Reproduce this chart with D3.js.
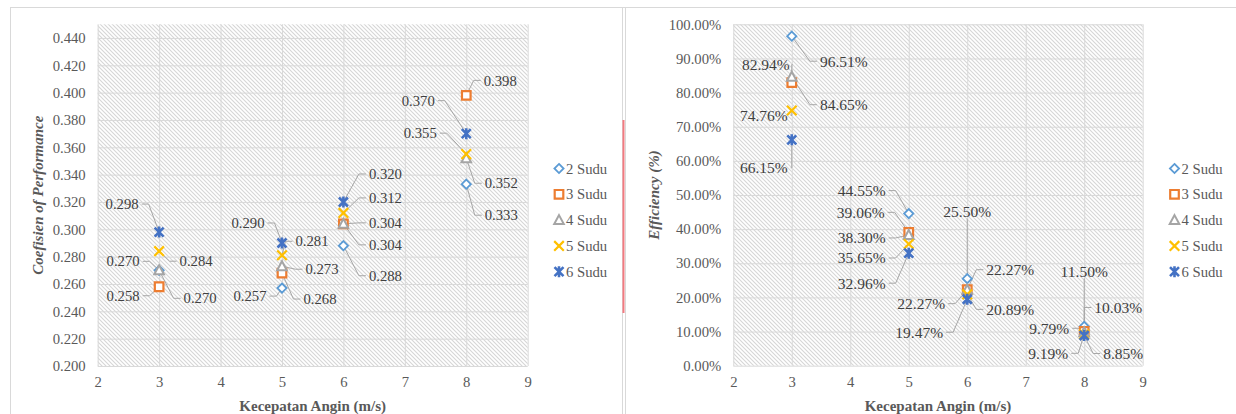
<!DOCTYPE html>
<html>
<head>
<meta charset="utf-8">
<script src="https://cdn.jsdelivr.net/npm/d3@7"></script>
</head>
<body style="margin:0">
<svg id="chart"></svg>
<script>
// data
let xValues = [3, 5, 6, 8]
let seriesNames = ['2 Sudu', '3 Sudu', '4 Sudu', '5 Sudu', '6 Sudu']

let cop2 = [0.270, 0.257, 0.288, 0.333]
let cop3 = [0.258, 0.268, 0.304, 0.398]
let cop4 = [0.270, 0.273, 0.304, 0.352]
let cop5 = [0.284, 0.281, 0.312, 0.355]
let cop6 = [0.298, 0.290, 0.320, 0.370]

let eff2 = [0.9651, 0.4455, 0.2550, 0.1150]
let eff3 = [0.8294, 0.3906, 0.2227, 0.1003]
let eff4 = [0.8465, 0.3830, 0.2227, 0.0979]
let eff5 = [0.7476, 0.3565, 0.2089, 0.0919]
let eff6 = [0.6615, 0.3296, 0.1947, 0.0885]

let xTicks = [2, 3, 4, 5, 6, 7, 8, 9]
let copTicks = [0.200, 0.220, 0.240, 0.260, 0.280, 0.300, 0.320, 0.340, 0.360, 0.380, 0.400, 0.420, 0.440]
let effTicks = [0, 0.1, 0.2, 0.3, 0.4, 0.5, 0.6, 0.7, 0.8, 0.9, 1.0]

// where Excel put each data label, offset from its point in px
let copLabelOffsets = [
    [[41, 28], [-32, 8], [42, 30], [35, 31]],
    [[-36, 9], [38, 26], [42, -1], [34, -15]],
    [[-36, -9], [40, 3], [42, 21], [35, 25]],
    [[37, 10], [30, -14], [42, -15], [-46, -21]],
    [[-37, -28], [-34, -20], [42, -28], [-48, -33]]
]
let effLabelOffsets = [
    [[52, 25], [-47, -23], [0, -67], [0, -55]],
    [[-26, -18], [-48, -20], [43, -20], [34, -24]],
    [[52, 28], [-47, 3], [-46, 14], [-35, -4]],
    [[-28, 5], [-47, 14], [43, 15], [-36, 19]],
    [[-28, 28], [-47, 30], [-48, 33], [39, 18]]
]

let colors = ['#5B9BD5', '#ED7D31', '#A5A5A5', '#FFC000', '#4472C4']
let shapes = ['diamond', 'square', 'triangle', 'x', 'star']

let fontName = '"Liberation Serif", "Times New Roman", serif'

let width = 1236
let height = 414

let svg = d3.select('#chart')
    .attr('width', width)
    .attr('height', height)

let defs = svg.append('defs')
let hatch = defs.append('pattern')
    .attr('id', 'hatch')
    .attr('patternUnits', 'userSpaceOnUse')
    .attr('width', 4)
    .attr('height', 4)
hatch.append('rect').attr('width', 4).attr('height', 4).attr('fill', '#fff')
hatch.append('path')
    .attr('d', 'M-1,-1L5,5M-1,3L1,5M3,-1L5,1')
    .attr('stroke', '#d6d6d6')
    .attr('stroke-width', 1.1)

// chart frames
svg.append('line').attr('x1', 10).attr('x2', width).attr('y1', 7.5).attr('y2', 7.5)
    .attr('stroke', '#d9d9d9')
svg.append('line').attr('x1', 10.5).attr('x2', 10.5).attr('y1', 7).attr('y2', height)
    .attr('stroke', '#d9d9d9')
svg.append('line').attr('x1', 622.5).attr('x2', 622.5).attr('y1', 7).attr('y2', height)
    .attr('stroke', '#d9d9d9')
svg.append('line').attr('x1', 625.5).attr('x2', 625.5).attr('y1', 7).attr('y2', height)
    .attr('stroke', '#d9d9d9')
svg.append('line').attr('x1', 623.5).attr('x2', 623.5).attr('y1', 120).attr('y2', 313)
    .attr('stroke', '#f27a80').attr('stroke-width', 2)

const markerPath = (shape) => {
    if (shape === 'diamond') return 'M0,-4.6L4.6,0L0,4.6L-4.6,0Z'
    if (shape === 'square') return 'M-4.3,-4.3H4.3V4.3H-4.3Z'
    if (shape === 'triangle') return 'M0,-5L4.8,4H-4.8Z'
    if (shape === 'x') return 'M-4.8,-4.8L4.8,4.8M4.8,-4.8L-4.8,4.8'
    return 'M-4.5,-4.5L4.5,4.5M4.5,-4.5L-4.5,4.5M0,-5.5V5.5'
}
const markerStroke = (shape) => {
    if (shape === 'diamond') return 1.8
    if (shape === 'square') return 2.2
    if (shape === 'triangle') return 2
    if (shape === 'x') return 2.2
    return 2.6
}

const setFont = (sel, size) => sel
    .style('font-family', fontName)
    .style('font-size', size + 'px')

const drawChart = (cfg) => {
    let xScale = d3.scaleLinear().domain([2, 9]).range([cfg.left, cfg.right])
    let yScale = d3.scaleLinear().domain(cfg.yDomain).range([cfg.bottom, cfg.top])

    let g = svg.append('g')

    g.append('rect')
        .attr('x', cfg.left).attr('y', cfg.top)
        .attr('width', cfg.right - cfg.left).attr('height', cfg.bottom - cfg.top)
        .attr('fill', 'url(#hatch)')

    // grid
    g.append('g')
        .attr('transform', `translate(${cfg.left},0)`)
        .call(d3.axisLeft(yScale).tickValues(cfg.yTicks).tickSize(-(cfg.right - cfg.left)).tickFormat(''))
        .call(a => a.select('.domain').remove())
        .call(a => a.selectAll('line').attr('stroke', '#d9d9d9'))
    g.append('g')
        .attr('transform', `translate(0,${cfg.bottom})`)
        .call(d3.axisBottom(xScale).tickValues(xTicks).tickSize(-(cfg.bottom - cfg.top)).tickFormat(''))
        .call(a => a.select('.domain').remove())
        .call(a => a.selectAll('line').attr('stroke', '#d9d9d9'))

    // tick labels
    g.append('g')
        .attr('transform', `translate(${cfg.left},0)`)
        .call(d3.axisLeft(yScale).tickValues(cfg.yTicks).tickSize(0).tickPadding(12).tickFormat(cfg.yFormat))
        .call(a => a.select('.domain').remove())
        .call(a => setFont(a.selectAll('text').attr('fill', '#595959'), 14.7))
    g.append('g')
        .attr('transform', `translate(0,${cfg.bottom})`)
        .call(d3.axisBottom(xScale).tickValues(xTicks).tickSize(0).tickPadding(11).tickFormat(d3.format('d')))
        .call(a => a.select('.domain').remove())
        .call(a => setFont(a.selectAll('text').attr('fill', '#595959'), 14.7))

    // axis titles
    g.append('text')
        .attr('x', (cfg.left + cfg.right) / 2)
        .attr('y', 411)
        .attr('text-anchor', 'middle')
        .attr('fill', '#595959')
        .call(s => setFont(s, 15))
        .style('font-weight', 'bold')
        .text('Kecepatan Angin (m/s)')
    g.append('text')
        .attr('transform', `translate(${cfg.titleX},${(cfg.top + cfg.bottom) / 2}) rotate(-90)`)
        .attr('text-anchor', 'middle')
        .attr('dy', '0.35em')
        .attr('fill', '#595959')
        .call(s => setFont(s, 15))
        .style('font-weight', 'bold')
        .style('font-style', 'italic')
        .text(cfg.yTitle)

    let points = []
    cfg.series.forEach((vals, si) => {
        vals.forEach((v, i) => {
            points.push({ si: si, x: xValues[i], y: v, off: cfg.offsets[si][i] })
        })
    })

    // leaders go under markers, labels on top
    let leaderG = g.append('g')
    let markerG = g.append('g')
    let labelG = g.append('g')

    points.forEach(p => {
        let px = xScale(p.x)
        let py = yScale(p.y)
        let lx = px + p.off[0]
        let ly = py + p.off[1]
        let t = labelG.append('text')
            .attr('x', lx).attr('y', ly)
            .attr('dy', '0.35em')
            .attr('text-anchor', 'middle')
            .attr('fill', '#404040')
            .call(s => setFont(s, cfg.labelSize))
            .text(cfg.labelFormat(p.y))
        let w = t.node().getComputedTextLength()
        let h = 12
        let d
        if (Math.abs(p.off[0]) <= w / 2 + 2) {
            let ey = p.off[1] < 0 ? ly + h / 2 + 1 : ly - h / 2 - 1
            d = `M${px},${py}L${lx},${ey}`
        } else if (p.off[0] > 0) {
            let ex = lx - w / 2 - 3
            let elbow = Math.min(7, ex - px)
            d = `M${px},${py}L${ex - elbow},${ly}L${ex},${ly}`
        } else {
            let ex = lx + w / 2 + 3
            let elbow = Math.min(7, px - ex)
            d = `M${px},${py}L${ex + elbow},${ly}L${ex},${ly}`
        }
        leaderG.append('path')
            .attr('d', d)
            .attr('fill', 'none')
            .attr('stroke', '#a6a6a6')
            .attr('stroke-width', 1)
    })

    cfg.series.forEach((vals, si) => {
        markerG.selectAll(null)
            .data(vals)
            .enter()
            .append('path')
            .attr('d', markerPath(shapes[si]))
            .attr('transform', (v, i) => `translate(${xScale(xValues[i])},${yScale(v)})`)
            .attr('fill', shapes[si] === 'x' || shapes[si] === 'star' ? 'none' : '#fff')
            .attr('stroke', colors[si])
            .attr('stroke-width', markerStroke(shapes[si]))
    })

    // legend
    let legend = g.append('g')
    seriesNames.forEach((name, si) => {
        let ly = 168.5 + si * 25.8
        legend.append('path')
            .attr('d', markerPath(shapes[si]))
            .attr('transform', `translate(${cfg.legendX},${ly})`)
            .attr('fill', shapes[si] === 'x' || shapes[si] === 'star' ? 'none' : '#fff')
            .attr('stroke', colors[si])
            .attr('stroke-width', markerStroke(shapes[si]))
        legend.append('text')
            .attr('x', cfg.legendX + 7)
            .attr('y', ly)
            .attr('dy', '0.35em')
            .attr('fill', '#595959')
            .call(s => setFont(s, 14.7))
            .text(name)
    })
}

drawChart({
    left: 97.7, right: 527.7, top: 24.3, bottom: 366,
    yDomain: [0.2, 0.45], yTicks: copTicks, yFormat: d3.format('.3f'),
    yTitle: 'Coefisien of Performance', titleX: 37.5,
    series: [cop2, cop3, cop4, cop5, cop6], offsets: copLabelOffsets,
    labelFormat: d3.format('.3f'), labelSize: 14.7,
    legendX: 559
})

drawChart({
    left: 733.3, right: 1142.7, top: 24.3, bottom: 365.7,
    yDomain: [0, 1], yTicks: effTicks, yFormat: d3.format('.2%'),
    yTitle: 'Efficiency (%)', titleX: 654,
    series: [eff2, eff3, eff4, eff5, eff6], offsets: effLabelOffsets,
    labelFormat: d3.format('.2%'), labelSize: 15.5,
    legendX: 1174.5
})
</script>
</body>
</html>
